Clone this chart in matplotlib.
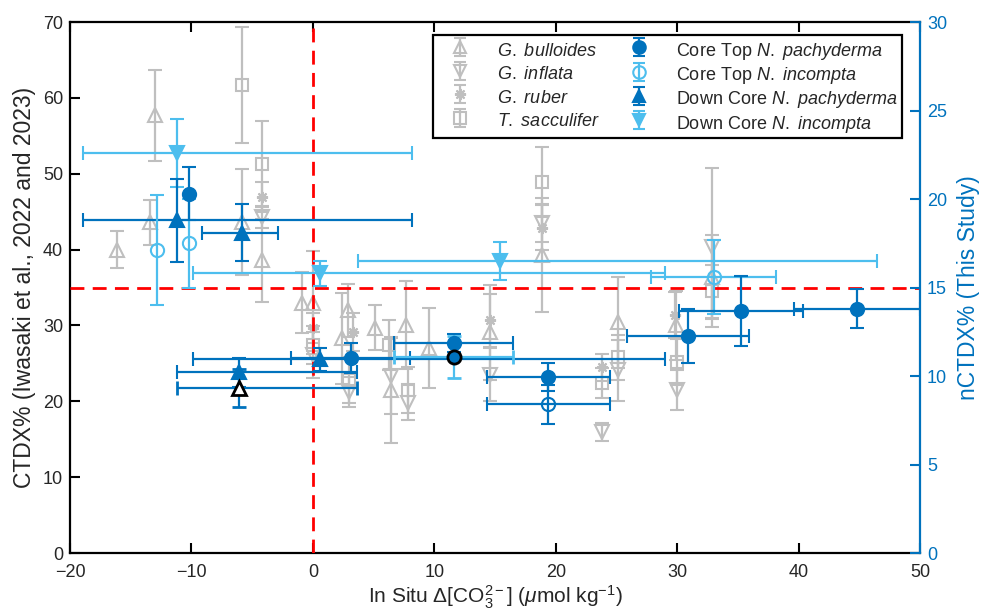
import numpy as np
import matplotlib
matplotlib.use('Agg')
import matplotlib.pyplot as plt

plt.rcParams['font.family'] = ['Liberation Sans', 'DejaVu Sans']
plt.rcParams['mathtext.fontset'] = 'custom'
plt.rcParams['mathtext.rm'] = 'Liberation Sans'
plt.rcParams['mathtext.it'] = 'Liberation Sans:italic'
plt.rcParams['mathtext.bf'] = 'Liberation Sans:bold'

GRAY = '#BFBFBF'
DARK = '#0072BD'
LIGHT = '#4DBEEE'
TXT = '#262626'

# ---------------- Iwasaki et al. (left axis, CTDX%) ----------------
bul_x = [-16.1, -13.4, -13.0, -5.8, -4.2, -0.9, 0.0, 2.4, 2.9, 5.1, 7.7, 9.6, 14.6, 18.9, 25.1, 29.9, 32.9, 6.4]
bul_y = [40.0, 43.6, 57.7, 43.6, 38.6, 33.0, 33.0, 28.3, 32.0, 29.7, 30.0, 27.0, 29.1, 39.3, 30.4, 30.0, 36.4, 21.5]
bul_e = [2.4, 3.0, 6.0, 7.0, 5.5, 4.0, 6.8, 6.0, 3.5, 3.0, 5.8, 5.3, 6.3, 7.5, 6.0, 4.5, 5.5, 7.0]

inf_x = [-4.2, 0.0, 3.0, 7.8, 6.4, 14.6, 18.9, 23.8, 25.1, 30.0, 32.9]
inf_y = [44.3, 26.1, 21.2, 19.8, 23.3, 23.5, 43.5, 16.0, 24.1, 21.5, 40.3]
inf_e = [1.5, 3.0, 2.0, 2.3, 5.0, 3.5, 2.5, 1.2, 4.0, 2.6, 10.5]

rub_x = [-4.2, 0.0, 3.3, 14.6, 18.9, 23.8, 29.8]
rub_y = [46.9, 29.7, 29.1, 30.7, 42.9, 24.5, 31.4]
rub_e = [2.0, 2.0, 2.5, 3.5, 3.0, 1.8, 3.0]

sac_x = [-5.8, -4.2, 0.0, 3.0, 6.3, 7.8, 18.9, 23.8, 25.1, 30.0, 32.9]
sac_y = [61.7, 51.3, 27.4, 22.8, 27.4, 21.5, 48.9, 22.4, 25.8, 25.2, 34.5]
sac_e = [7.6, 5.7, 2.5, 3.0, 3.3, 3.0, 4.6, 2.0, 3.0, 3.0, 3.5]

# ---------------- This study (right axis, nCTDX%) ----------------
ctp_x = [-10.2, 3.1, 11.6, 19.4, 30.9, 35.25, 44.8]
ctp_y = [20.3, 11.0, 11.86, 9.94, 12.26, 13.67, 13.8]
ctp_ye = [1.5, 0.85, 0.5, 0.8, 1.5, 2.0, 1.1]
ctp_xe = [np.nan, 4.9, 4.9, 5.1, 5.0, 5.1, 5.2]

cti_x = [-12.85, -10.2, 33.0]
cti_y = [17.1, 17.5, 15.6]
cti_ye = [3.1, 2.5, 2.1]
cti_xe = [np.nan, np.nan, 5.15]

cti_dark_x = [19.4]
cti_dark_y = [8.4]
cti_dark_ye = [1.1]
cti_dark_xe = [5.1]

dcp_x = [-11.2, -5.85, -6.1, 0.6]
dcp_y = [18.8, 18.1, 10.2, 10.96]
dcp_ye = [2.35, 1.6, 0.8, 0.65]
dcp_xlo = [7.75, 3.3, 5.1, 10.46]
dcp_xhi = [19.35, 3.0, 9.7, 28.4]

dci_x = [-11.2, 0.6, 15.4]
dci_y = [22.6, 15.8, 16.5]
dci_ye = [1.9, 0.7, 1.1]
dci_xlo = [7.75, 10.46, 11.7]
dci_xhi = [19.35, 28.4, 31.1]

# highlighted samples
hl_circ_x = [11.6]
hl_circ_y = [11.07]
hl_circ_ye = [1.2]
hl_circ_xe = [4.9]

hl_tri_x = [-6.1]
hl_tri_y = [9.3]
hl_tri_ye = [1.07]
hl_tri_xlo = [5.1]
hl_tri_xhi = [9.7]

CTDX_THRESH = 35
XZERO = 0
ASTER = (8, 2, 0)

fig = plt.figure(figsize=(9.81, 6.14), dpi=100)
ax = fig.add_axes([0.0714, 0.0993, 0.8664, 0.8648])
ax2 = ax.twinx()

ekw = dict(capsize=5, elinewidth=1.6, capthick=1.6, linestyle='none')

# gray data
ax.errorbar(bul_x, bul_y, yerr=bul_e, fmt='', marker='^', color=GRAY, mfc='none', ms=9.5, mew=1.5, **ekw)
ax.errorbar(inf_x, inf_y, yerr=inf_e, fmt='', marker='v', color=GRAY, mfc='none', ms=9.5, mew=1.5, **ekw)
ax.errorbar(rub_x, rub_y, yerr=rub_e, fmt='', marker=ASTER, color=GRAY, mfc='none', ms=8, mew=1.5, **ekw)
ax.errorbar(sac_x, sac_y, yerr=sac_e, fmt='', marker='s', color=GRAY, mfc='none', ms=8, mew=1.5, **ekw)

# reference lines
ax.axvline(XZERO, color='#FF0000', lw=2, dashes=(5, 3), zorder=5)
ax.axhline(CTDX_THRESH, color='#FF0000', lw=2, dashes=(5, 3), zorder=5)

# blue data on right axis
ax2.errorbar(dci_x, dci_y, yerr=dci_ye, xerr=[dci_xlo, dci_xhi], fmt='', marker='v', color=LIGHT, mfc=LIGHT, ms=9.5, mew=1.5, **ekw)
ax2.errorbar(dcp_x, dcp_y, yerr=dcp_ye, xerr=[dcp_xlo, dcp_xhi], fmt='', marker='^', color=DARK, mfc=DARK, ms=9.5, mew=1.5, **ekw)
ax2.errorbar(cti_x, cti_y, yerr=cti_ye, xerr=cti_xe, fmt='', marker='o', color=LIGHT, mfc='none', ms=9.5, mew=1.5, **ekw)
ax2.errorbar(cti_dark_x, cti_dark_y, yerr=cti_dark_ye, xerr=cti_dark_xe, fmt='', marker='o', color=DARK, mfc='none', ms=9.5, mew=1.5, **ekw)
ax2.errorbar(ctp_x, ctp_y, yerr=ctp_ye, xerr=ctp_xe, fmt='', marker='o', color=DARK, mfc=DARK, ms=9.5, mew=1.5, **ekw)
ax2.errorbar(hl_circ_x, hl_circ_y, yerr=hl_circ_ye, xerr=hl_circ_xe, fmt='', marker='o', color=LIGHT,
             mfc=DARK, mec='black', ms=9.5, mew=2, **ekw)
ax2.errorbar(hl_tri_x, hl_tri_y, yerr=hl_tri_ye, xerr=[hl_tri_xlo, hl_tri_xhi], fmt='', marker='^', color=DARK,
             mfc='white', mec='black', ms=10, mew=2, **ekw)

# axes limits & ticks
ax.set_xlim(-20, 50)
ax.set_ylim(0, 70)
ax2.set_ylim(0, 30)
ax.set_xticks(np.arange(-20, 51, 10))
ax.set_yticks(np.arange(0, 71, 10))
ax2.set_yticks(np.arange(0, 31, 5))

ax.tick_params(axis='x', which='both', direction='in', top=True, bottom=True, length=7, width=1.5,
               labelsize=13, colors='black', labelcolor=TXT, pad=8)
ax.tick_params(axis='y', direction='in', left=True, right=False, length=7, width=1.5, labelsize=13,
               labelcolor=TXT, pad=5)
ax2.tick_params(axis='y', direction='in', right=True, length=7, width=1.5, labelsize=13,
                colors=DARK, pad=5)
for s in ['left', 'bottom', 'top']:
    ax.spines[s].set_linewidth(1.6)
    ax.spines[s].set_color('black')
ax.spines['right'].set_visible(False)
for s in ['left', 'bottom', 'top']:
    ax2.spines[s].set_visible(False)
ax2.spines['right'].set_color(DARK)
ax2.spines['right'].set_linewidth(1.6)

ax.set_xlabel('In Situ Δ[CO$_3^{2-}$] ($\\mu$mol kg$^{-1}$)', fontsize=15, labelpad=2, color=TXT)
ax.set_ylabel('CTDX% (Iwasaki et al., 2022 and 2023)', fontsize=16.5, labelpad=5, color=TXT)
ax2.set_ylabel('nCTDX% (This Study)', fontsize=16.5, color=DARK, labelpad=7)

# legend proxies
lkw = dict(capsize=4, elinewidth=1.6, capthick=1.6, linestyle='none', fmt='', mew=1.5)
h = []
h.append(ax.errorbar([np.nan], [np.nan], yerr=[1], marker='^', color=GRAY, mfc='none', ms=9, **lkw))
h.append(ax.errorbar([np.nan], [np.nan], yerr=[1], marker='v', color=GRAY, mfc='none', ms=9, **lkw))
h.append(ax.errorbar([np.nan], [np.nan], yerr=[1], marker=ASTER, color=GRAY, mfc='none', ms=8, **lkw))
h.append(ax.errorbar([np.nan], [np.nan], yerr=[1], marker='s', color=GRAY, mfc='none', ms=8, **lkw))
h.append(ax.errorbar([np.nan], [np.nan], yerr=[1], marker='o', color=DARK, mfc=DARK, ms=9, **lkw))
h.append(ax.errorbar([np.nan], [np.nan], yerr=[1], marker='o', color=LIGHT, mfc='none', ms=9, **lkw))
h.append(ax.errorbar([np.nan], [np.nan], yerr=[1], marker='^', color=DARK, mfc=DARK, ms=9, **lkw))
h.append(ax.errorbar([np.nan], [np.nan], yerr=[1], marker='v', color=LIGHT, mfc=LIGHT, ms=9, **lkw))
labels = [r'$\mathit{G.\ bulloides}$', r'$\mathit{G.\ inflata}$', r'$\mathit{G.\ ruber}$',
          r'$\mathit{T.\ sacculifer}$',
          r'Core Top $\mathit{N.\ pachyderma}$', r'Core Top $\mathit{N.\ incompta}$',
          r'Down Core $\mathit{N.\ pachyderma}$', r'Down Core $\mathit{N.\ incompta}$']
leg = ax2.legend(h, labels, ncol=2, loc='upper left', bbox_to_anchor=(0.427, 0.9755),
                 fontsize=13, frameon=True, fancybox=False, framealpha=1, edgecolor='black',
                 handlelength=2.6, handleheight=1.5, handletextpad=0.75, columnspacing=0.9,
                 labelspacing=0.08, borderpad=0.2, borderaxespad=0, labelcolor=TXT)
leg.get_frame().set_linewidth(1.6)
leg.set_zorder(20)

fig.savefig('out.png', dpi=100)
